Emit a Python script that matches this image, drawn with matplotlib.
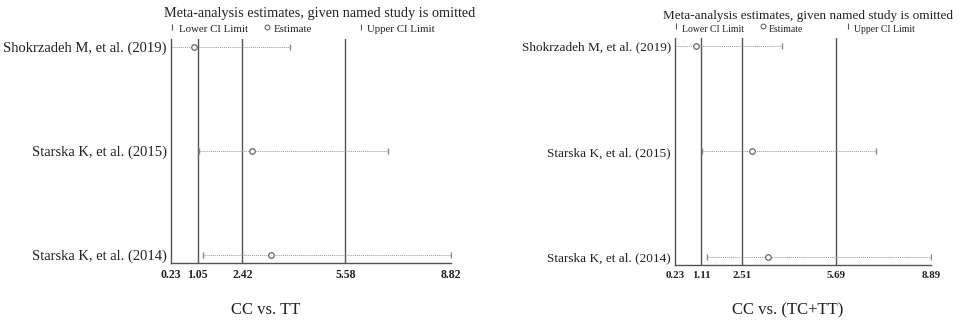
import matplotlib
matplotlib.use("Agg")
import matplotlib.pyplot as plt

studies = ["Shokrzadeh M, et al. (2019)", "Starska K, et al. (2015)", "Starska K, et al. (2014)"]

# CC vs. TT
tt_lower = [0.23, 1.09, 1.21]
tt_est = [0.95, 2.71, 3.30]
tt_upper = [3.87, 6.89, 8.82]
tt_ticks = [0.23, 1.05, 2.42, 5.58, 8.82]
tt_overall = [1.05, 2.42, 5.58]

# CC vs. (TC+TT)
tct_lower = [0.23, 1.14, 1.30]
tct_est = [0.95, 2.83, 3.39]
tct_upper = [3.84, 7.03, 8.89]
tct_ticks = [0.23, 1.11, 2.51, 5.69, 8.89]
tct_overall = [1.11, 2.51, 5.69]

SERIF = ["Liberation Serif", "DejaVu Serif"]
LINE = "#555555"
DOT = "#999999"

fig = plt.figure(figsize=(9.6, 3.22), dpi=100)
W, H = 960.0, 322.0


def panel(rect, lower, est, upper, ticks, overall, xlabel, xlabel_x, title_x, title_y,
          title_fs, lab_fs, leg_fs, tick_fs, xl_fs):
    x0, top, x1, bot = rect
    ax = fig.add_axes([x0 / W, 1 - bot / H, (x1 - x0) / W, (bot - top) / H])
    n = len(studies)
    ys = list(range(n, 0, -1))
    pad = 8.0 / ((bot - top - 16) / (n - 1))
    ax.set_ylim(1 - pad, n + pad)
    ax.set_xlim(ticks[0], ticks[-1])
    for v in overall:
        ax.axvline(v, color=LINE, lw=1.0, zorder=1)
    for y, lo, e, hi in zip(ys, lower, est, upper):
        ax.plot([lo, hi], [y, y], color=DOT, lw=0.7, ls=(0, (1, 1)), zorder=2)
        if lo > ticks[0] + 1e-9:
            ax.plot([lo], [y], marker="|", ms=5, mew=1.0, color="#888888", zorder=3)
        ax.plot([hi], [y], marker="|", ms=5, mew=1.0, color="#888888", zorder=3)
        ax.plot([e], [y], marker="o", ms=4.0, mew=0.9, mfc="white", mec="#666666", zorder=4)
    for s in ["top", "right"]:
        ax.spines[s].set_visible(False)
    for s in ["left", "bottom"]:
        ax.spines[s].set_color(LINE)
        ax.spines[s].set_linewidth(1.0)
    ax.set_yticks(ys)
    ax.set_yticklabels(studies, family=SERIF, fontsize=lab_fs, color="#222222")
    ax.tick_params(axis="y", length=0, pad=3)
    ax.set_xticks(ticks)
    ax.set_xticklabels([f"{t:.2f}" for t in ticks], family=SERIF, fontsize=tick_fs,
                       fontweight="bold", color="#222222")
    ax.tick_params(axis="x", length=0, pad=4)
    ax.set_xticks([ticks[0], ticks[-1]], minor=True)
    ax.tick_params(axis="x", which="minor", length=3, width=1.0, color=LINE)
    # legend
    tr = ax.transAxes
    ly = 1 + 9.0 / (bot - top)
    for fx, mk, txt in [(0.0, "|", "Lower CI Limit"), (0.338, "o", "Estimate"),
                        (0.673, "|", "Upper CI Limit")]:
        if mk == "o":
            ax.plot([fx + 0.004], [ly + 0.012], transform=tr, marker="o", ms=3.5, mew=0.7,
                    mfc="white", mec="#555555", clip_on=False)
        else:
            ax.plot([fx + 0.004], [ly + 0.012], transform=tr, marker="|", ms=4, mew=0.8,
                    color="#555555", clip_on=False)
        ax.text(fx + 0.028, ly, txt, transform=tr, family=SERIF, fontsize=leg_fs,
                ha="left", va="center", color="#222222")
    fig.text(title_x / W, 1 - title_y / H, "Meta-analysis estimates, given named study is omitted",
             family=SERIF, fontsize=title_fs, ha="center", va="center", color="#222222")
    fig.text(xlabel_x / W, 1 - 310 / H, xlabel, family=SERIF, fontsize=xl_fs,
             ha="center", va="center", color="#222222")
    return ax


panel((171, 39, 451, 263), tt_lower, tt_est, tt_upper, tt_ticks, tt_overall,
      "CC vs. TT", 266, 320, 14, 10.3, 10.5, 7.8, 8.5, 12)
panel((675, 38, 931, 265), tct_lower, tct_est, tct_upper, tct_ticks, tct_overall,
      "CC vs. (TC+TT)", 788, 808, 16, 9.5, 9.5, 7.0, 7.8, 12)

fig.savefig("out.png", dpi=100)
